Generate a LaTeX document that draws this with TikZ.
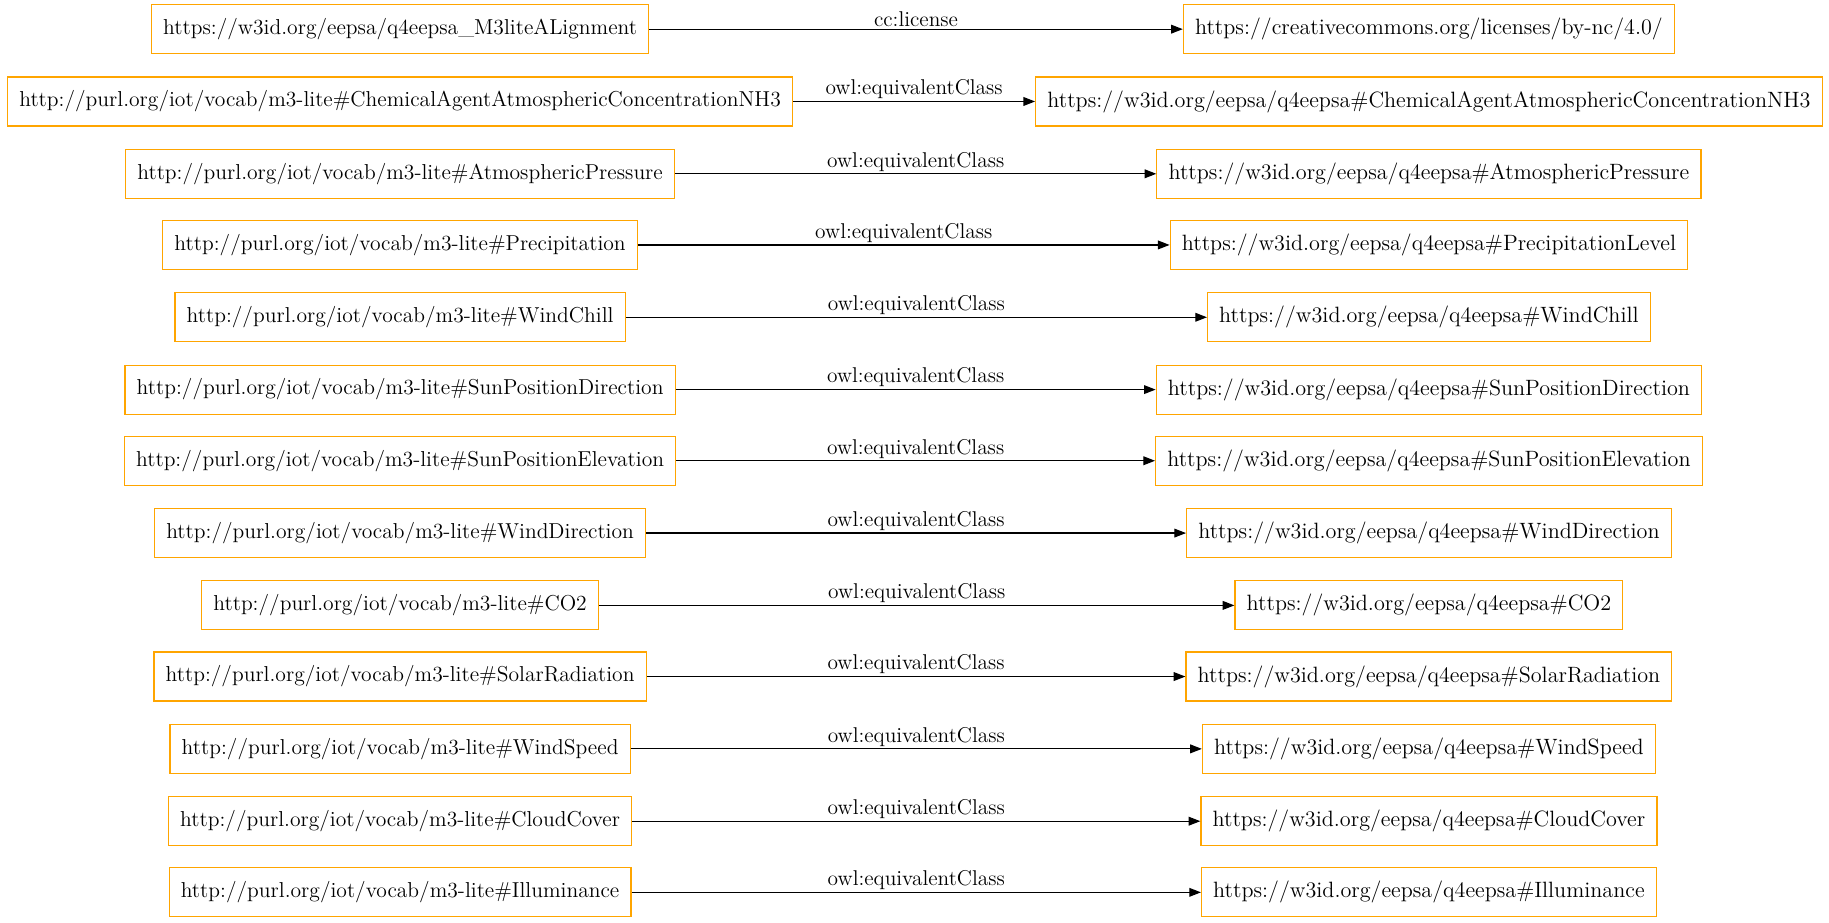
\documentclass[tikz,border=0pt]{standalone}
\usepackage{tikz}
\usepackage{xcolor}
\usetikzlibrary{arrows.meta}
\definecolor{boxorange}{HTML}{FFA500}
\tikzset{term/.style={draw=boxorange, line width=0.6pt, minimum height=25.2pt,
   inner xsep=6pt, font=\fontsize{11.1}{13}\selectfont},
 target/.style={term, font=\fontsize{11.4}{13}\selectfont},
 rel/.style={draw, line width=0.6pt, -{Triangle[length=6pt,width=4.5pt]}},
 rellabel/.style={midway, above, inner sep=1pt, font=\fontsize{11}{13}\selectfont},
 }

\begin{document}
\begin{tikzpicture}[x=0.6pt, y=-0.6pt]
        \useasboundingbox (0,0) rectangle (1568,791);
        \node [term] (align) at (343, 25) {https://w3id.org/eepsa/q4eepsa\_M3liteALignment};
        \node [target] (license) at (1225, 25) {https://creativecommons.org/licenses/by-nc/4.0/};
        \node [term] (m3nh) at (343, 87) {http://purl.org/iot/vocab/m3-lite\#ChemicalAgentAtmosphericConcentrationNH3};
        \node [target] (qnh) at (1225, 87) {https://w3id.org/eepsa/q4eepsa\#ChemicalAgentAtmosphericConcentrationNH3};
        \node [term] (m3press) at (343, 149) {http://purl.org/iot/vocab/m3-lite\#AtmosphericPressure};
        \node [target] (qpress) at (1225, 149) {https://w3id.org/eepsa/q4eepsa\#AtmosphericPressure};
        \node [term] (m3prec) at (343, 210) {http://purl.org/iot/vocab/m3-lite\#Precipitation};
        \node [target] (qprec) at (1225, 210) {https://w3id.org/eepsa/q4eepsa\#PrecipitationLevel};
        \node [term] (m3chill) at (343, 272) {http://purl.org/iot/vocab/m3-lite\#WindChill};
        \node [target] (qchill) at (1225, 272) {https://w3id.org/eepsa/q4eepsa\#WindChill};
        \node [term] (m3sundir) at (343, 334) {http://purl.org/iot/vocab/m3-lite\#SunPositionDirection};
        \node [target] (qsundir) at (1225, 334) {https://w3id.org/eepsa/q4eepsa\#SunPositionDirection};
        \node [term] (m3sunel) at (343, 395) {http://purl.org/iot/vocab/m3-lite\#SunPositionElevation};
        \node [target] (qsunel) at (1225, 395) {https://w3id.org/eepsa/q4eepsa\#SunPositionElevation};
        \node [term] (m3winddir) at (343, 457) {http://purl.org/iot/vocab/m3-lite\#WindDirection};
        \node [target] (qwinddir) at (1225, 457) {https://w3id.org/eepsa/q4eepsa\#WindDirection};
        \node [term] (m3co) at (343, 519) {http://purl.org/iot/vocab/m3-lite\#CO2};
        \node [target] (qco) at (1225, 519) {https://w3id.org/eepsa/q4eepsa\#CO2};
        \node [term] (m3solar) at (343, 580) {http://purl.org/iot/vocab/m3-lite\#SolarRadiation};
        \node [target] (qsolar) at (1225, 580) {https://w3id.org/eepsa/q4eepsa\#SolarRadiation};
        \node [term] (m3windsp) at (343, 642) {http://purl.org/iot/vocab/m3-lite\#WindSpeed};
        \node [target] (qwindsp) at (1225, 642) {https://w3id.org/eepsa/q4eepsa\#WindSpeed};
        \node [term] (m3cloud) at (343, 704) {http://purl.org/iot/vocab/m3-lite\#CloudCover};
        \node [target] (qcloud) at (1225, 704) {https://w3id.org/eepsa/q4eepsa\#CloudCover};
        \node [term] (m3illum) at (343, 765) {http://purl.org/iot/vocab/m3-lite\#Illuminance};
        \node [target] (qillum) at (1225, 765) {https://w3id.org/eepsa/q4eepsa\#Illuminance};
        \draw [rel] (align) -- node [rellabel] {cc:license} (license);
        \draw [rel] (m3nh) -- node [rellabel] {owl:equivalentClass} (qnh);
        \draw [rel] (m3press) -- node [rellabel] {owl:equivalentClass} (qpress);
        \draw [rel] (m3prec) -- node [rellabel] {owl:equivalentClass} (qprec);
        \draw [rel] (m3chill) -- node [rellabel] {owl:equivalentClass} (qchill);
        \draw [rel] (m3sundir) -- node [rellabel] {owl:equivalentClass} (qsundir);
        \draw [rel] (m3sunel) -- node [rellabel] {owl:equivalentClass} (qsunel);
        \draw [rel] (m3winddir) -- node [rellabel] {owl:equivalentClass} (qwinddir);
        \draw [rel] (m3co) -- node [rellabel] {owl:equivalentClass} (qco);
        \draw [rel] (m3solar) -- node [rellabel] {owl:equivalentClass} (qsolar);
        \draw [rel] (m3windsp) -- node [rellabel] {owl:equivalentClass} (qwindsp);
        \draw [rel] (m3cloud) -- node [rellabel] {owl:equivalentClass} (qcloud);
        \draw [rel] (m3illum) -- node [rellabel] {owl:equivalentClass} (qillum);
    \end{tikzpicture}
\end{document}
